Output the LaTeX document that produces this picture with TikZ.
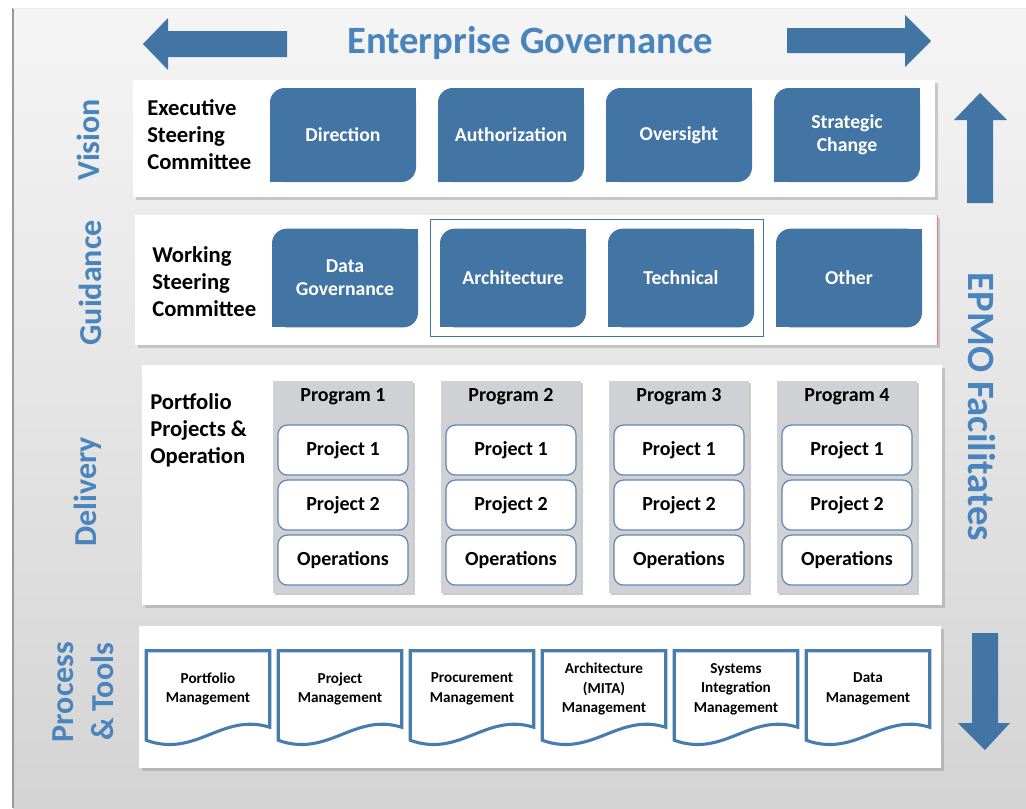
\documentclass[tikz,border=0pt]{standalone}
\usepackage{fontspec}
\setmainfont{Carlito}
\usepackage{xcolor}
\usepackage{tikz}
\usetikzlibrary{positioning,shadows,fit}

\definecolor{govblue}{RGB}{66,116,164}
\definecolor{labelblue}{RGB}{74,132,188}
\definecolor{projblue}{RGB}{96,136,178}
\definecolor{docblue}{RGB}{70,124,174}
\definecolor{colgray}{RGB}{208,209,212}

\tikzset{
  rowpanel/.style={fill=white, drop shadow={shadow xshift=2pt, shadow yshift=-2pt, opacity=0.35}},
  bluetext/.style={text=labelblue, align=center, inner sep=0pt, font=\fontsize{24}{30}\selectfont\bfseries},
  sidelabel/.style={bluetext, rotate=90},
  epmolabel/.style={bluetext, rotate=-90, font=\fontsize{29}{34}\selectfont\bfseries},
  titletext/.style={bluetext, font=\fontsize{29}{34}\selectfont\bfseries},
  rowlabel/.style={anchor=west, align=left, inner sep=0pt, font=\fontsize{17}{20.25}\selectfont\bfseries},
  govbox/.style={fill=govblue, text=white, rounded corners=11pt, minimum width=109.5pt, minimum height=70.5pt,
    align=center, inner sep=0pt, outer sep=0pt, font=\fontsize{14.8}{17.5}\selectfont\bfseries},
  groupbox/.style={draw=govblue, line width=0.8pt, inner sep=7pt},
  progcol/.style={fill=colgray, minimum width=105pt, minimum height=159pt, inner sep=0pt,
    drop shadow={shadow xshift=1.5pt, shadow yshift=-1.5pt, opacity=0.4}},
  progtitle/.style={inner sep=0pt, font=\fontsize{15}{18}\selectfont\bfseries},
  projbox/.style={fill=white, draw=projblue, line width=0.9pt, rounded corners=7pt, minimum width=97.5pt,
    minimum height=37.5pt, inner sep=0pt, font=\fontsize{15}{18}\selectfont\bfseries},
  docbox/.style={minimum width=92.25pt, minimum height=57pt, inner sep=0pt, align=center,
    font=\fontsize{11.4}{14.5}\selectfont\bfseries},
  docline/.style={draw=docblue, line width=2.3pt, line join=miter}
}

\begin{document}
\begin{tikzpicture}[x=0.75pt, y=-0.75pt, on grid, node distance=126pt]
  \useasboundingbox (0,0) rectangle (1026,808);
  \fill[white] (0,0) rectangle (1026,808);
  \shade[top color=black!4, bottom color=black!17] (13,8) rectangle (1026,808);
  \draw[black!40, line width=1.5pt] (13,8) -- (13,808);
  \draw[black!8] (13,8) -- (1026,8);

  % big arrows
  \fill[govblue] (287,31) -- (168,31) -- (168,18) -- (143,44) -- (168,70) -- (168,57) -- (287,57) -- cycle;
  \fill[govblue] (787,28) -- (905,28) -- (905,15) -- (931,41) -- (905,67) -- (905,53) -- (787,53) -- cycle;
  \fill[govblue] (967,203) -- (967,120) -- (954,120) -- (980,93) -- (1007,120) -- (993,120) -- (993,203) -- cycle;
  \fill[govblue] (972,633) -- (998,633) -- (998,723) -- (1010,723) -- (985,750) -- (958,723) -- (972,723) -- cycle;

  \node[titletext] (govtitle) at (530,43) {Enterprise Governance};
  \node[epmolabel] (epmo)     at (982,407) {EPMO Facilitates};

  % row panels
  \fill[rowpanel] (133,80)  rectangle (935,197);
  \fill[rowpanel] (135,215) rectangle (937,345);
  \draw[red!55, line width=0.6pt] (937,215) -- (937,345);
  \fill[rowpanel] (142,365) rectangle (942,605);
  \fill[rowpanel] (139,626) rectangle (941,768);

  \node[sidelabel] (vision)   at (88,140) {Vision};
  \node[sidelabel] (guidance) at (90,283) {Guidance};
  \node[sidelabel] (delivery) at (88,492) {Delivery};
  \node[sidelabel] (process)  at (83,692) {Process\\\& Tools};

  % vision
  \node[rowlabel]  (esc)           at (147,135)          {Executive\\Steering\\Committee};
  \node[govbox]    (direction)     at (343,135)          {Direction};
  \node[govbox]    (authorization) [right=of direction]     {Authorization};
  \node[govbox]    (oversight)     [right=of authorization] {Oversight};
  \node[govbox]    (strategic)     [right=of oversight]     {Strategic\\Change};

  % guidance
  \node[rowlabel]  (wsc)           at (152,282)          {Working\\Steering\\Committee};
  \node[govbox, minimum height=74pt] (datagov)      at (345,278)          {Data\\Governance};
  \node[govbox, minimum height=74pt] (architecture) [right=of datagov]      {Architecture};
  \node[govbox, minimum height=74pt] (technical)    [right=of architecture] {Technical};
  \node[govbox, minimum height=74pt] (other)        [right=of technical]    {Other};
  \node[groupbox, fit=(architecture)(technical)] (techgroup) {};

  \foreach \b in {direction,authorization,oversight,strategic,datagov,architecture,technical,other} {
    \fill[govblue] (\b.north east) rectangle ++(-11pt,-11pt);
    \fill[govblue] (\b.south west) rectangle ++(11pt,11pt);
  }

  % delivery
  \node[rowlabel]  (ppo)   at (150,430)       {Portfolio\\Projects \&\\Operation};
  \node[progcol]   (prog1) at (343,487)       {};
  \node[progcol]   (prog2) [right=of prog1]   {};
  \node[progcol]   (prog3) [right=of prog2]   {};
  \node[progcol]   (prog4) [right=of prog3]   {};
  \foreach \i in {1,...,4} {
    \node[progtitle] (title\i) [below=12pt of prog\i.north, anchor=center] {Program \i};
    \node[projbox]   (projA\i) [below=52pt of prog\i.north, anchor=center] {Project 1};
    \node[projbox]   (projB\i) [below=41.25pt of projA\i]   {Project 2};
    \node[projbox]   (ops\i)   [below=41.25pt of projB\i]   {Operations};
  }

  % process & tools
  \node[docbox] (portfolio)   at (208,689)                {Portfolio\\Management};
  \node[docbox] (projmgmt)    [right=99pt of portfolio]   {Project\\Management};
  \node[docbox] (procurement) [right=99pt of projmgmt]    {Procurement\\Management};
  \node[docbox] (mita)        [right=99pt of procurement] {Architecture\\(MITA)\\Management};
  \node[docbox] (sysint)      [right=99pt of mita]        {Systems\\Integration\\Management};
  \node[docbox] (datamgmt)    [right=99pt of sysint]      {Data\\Management};

  \foreach \d in {portfolio,projmgmt,procurement,mita,sysint,datamgmt}
    \draw[docline] (\d.north west) -- (\d.north east) -- (\d.south east)
      .. controls +(-48,-15) and +(50,18) .. ([yshift=-9.75pt]\d.south west) -- cycle;
\end{tikzpicture}
\end{document}
